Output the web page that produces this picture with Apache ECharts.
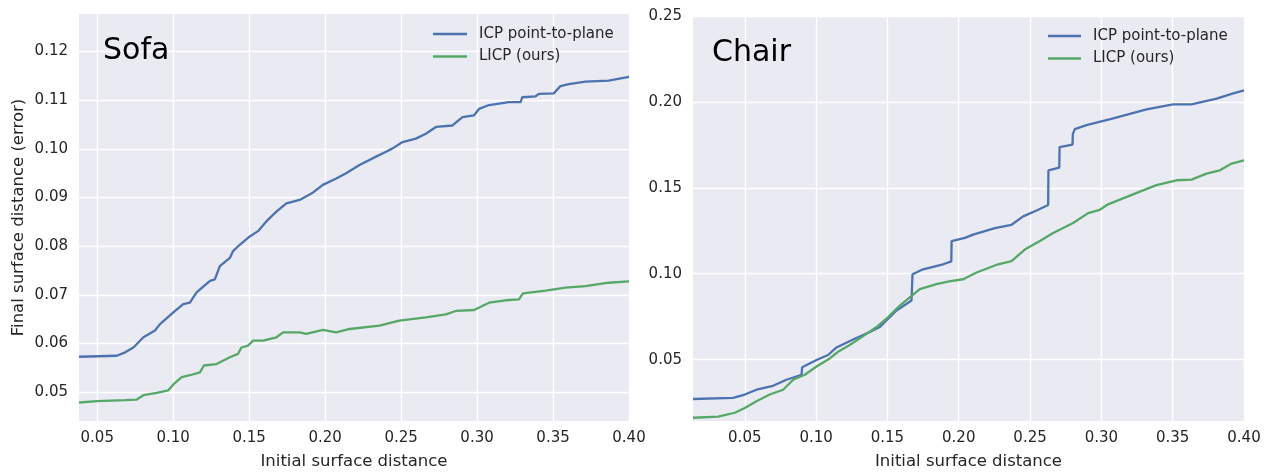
<!DOCTYPE html>
<html>
<head>
<meta charset="utf-8">
<script src="https://cdn.jsdelivr.net/npm/echarts@6/dist/echarts.min.js"></script>
<style>
html,body{margin:0;padding:0;background:#fff;}
#chart{width:1271px;height:475px;}
</style>
</head>
<body>
<div id="chart"></div>
<script>
// ---- Data ----
const seriesNames = ['ICP point-to-plane', 'LICP (ours)'];
const panelTitles = ['Sofa', 'Chair'];
const xAxisName = 'Initial surface distance';
const yAxisName = 'Final surface distance (error)';

// Sofa panel
const sofaIcpX = [0.038,0.0629,0.0684,0.0738,0.0804,0.088,0.0913,0.1001,0.1066,0.111,0.1154,0.1242,0.1274,0.1307,0.1373,0.1394,0.1438,0.1504,0.1558,0.1613,0.1679,0.1745,0.1832,0.1919,0.1985,0.2073,0.2138,0.2226,0.2335,0.2401,0.2444,0.251,0.2597,0.2663,0.2729,0.2838,0.2904,0.298,0.3013,0.3079,0.321,0.3287,0.3297,0.3385,0.3407,0.3505,0.3549,0.3604,0.3713,0.3866,0.40];
const sofaIcpY = [0.0573,0.0575,0.0582,0.0592,0.0613,0.0627,0.064,0.0664,0.0681,0.0684,0.0705,0.0729,0.0732,0.0759,0.0776,0.079,0.0803,0.082,0.0831,0.0851,0.0871,0.0888,0.0895,0.0910,0.0926,0.0939,0.095,0.0967,0.0984,0.0994,0.1001,0.1014,0.1021,0.1031,0.1045,0.1048,0.1065,0.1069,0.1082,0.109,0.1096,0.1096,0.1106,0.1108,0.1113,0.1114,0.1129,0.1133,0.1138,0.114,0.1148];
const sofaLicpX = [0.038,0.0498,0.0684,0.076,0.0804,0.0891,0.0968,0.1001,0.1056,0.111,0.1176,0.1202,0.1285,0.1373,0.1427,0.1449,0.1493,0.1526,0.1591,0.1679,0.1723,0.1832,0.1876,0.1985,0.2073,0.2161,0.2357,0.2488,0.2663,0.2795,0.286,0.298,0.3079,0.3188,0.3276,0.3302,0.3451,0.3582,0.3713,0.3866,0.40];
const sofaLicpY = [0.0479,0.0482,0.0484,0.0485,0.0494,0.0499,0.0504,0.0516,0.0531,0.0535,0.0541,0.0555,0.0558,0.0572,0.0579,0.0592,0.0596,0.0606,0.0606,0.0613,0.0623,0.0623,0.062,0.0628,0.0623,0.063,0.0637,0.0647,0.0654,0.066,0.0667,0.0669,0.0684,0.0689,0.0691,0.0703,0.0709,0.0715,0.0718,0.0725,0.0728];

// Chair panel
const chairIcpX = [0.0137,0.0418,0.05,0.0582,0.0698,0.0792,0.0898,0.0902,0.1003,0.1084,0.1143,0.1259,0.1377,0.1447,0.1564,0.1669,0.1676,0.175,0.1891,0.1948,0.195,0.2043,0.2101,0.2253,0.237,0.2452,0.2546,0.2627,0.2629,0.2705,0.2707,0.2798,0.28,0.2814,0.2896,0.3083,0.3317,0.3503,0.3632,0.3808,0.3924,0.40];
const chairIcpY = [0.0271,0.0277,0.0297,0.0325,0.0348,0.0383,0.0412,0.0456,0.0498,0.0527,0.0571,0.0617,0.0661,0.069,0.0786,0.0844,0.0997,0.1026,0.1055,0.1072,0.119,0.1209,0.1228,0.1266,0.1285,0.1334,0.1368,0.14,0.1602,0.1618,0.1737,0.1752,0.1813,0.1842,0.1865,0.1904,0.1957,0.1986,0.1986,0.2019,0.205,0.2067];
const chairLicpX = [0.0137,0.0313,0.043,0.05,0.0582,0.0675,0.0769,0.0839,0.0921,0.1003,0.1096,0.1154,0.1236,0.133,0.1424,0.1505,0.1587,0.1657,0.1727,0.1844,0.1933,0.2031,0.2125,0.2276,0.237,0.2463,0.2569,0.2662,0.2802,0.2907,0.2989,0.3047,0.327,0.3386,0.3527,0.3632,0.3737,0.3831,0.3913,0.40];
const chairLicpY = [0.0162,0.0168,0.0191,0.0219,0.0258,0.0297,0.0325,0.0383,0.0412,0.046,0.0507,0.0546,0.0585,0.0637,0.069,0.0748,0.0815,0.0863,0.0911,0.094,0.0955,0.0968,0.1007,0.1055,0.1074,0.1141,0.119,0.1237,0.1295,0.1353,0.1372,0.1404,0.1478,0.1516,0.1544,0.1548,0.1583,0.1602,0.1641,0.166];

// Axis ticks
const sofaXTicks = [0.05,0.10,0.15,0.20,0.25,0.30,0.35,0.40];
const sofaYTicks = [0.05,0.06,0.07,0.08,0.09,0.10,0.11,0.12];
const chairXTicks = [0.05,0.10,0.15,0.20,0.25,0.30,0.35,0.40];
const chairYTicks = [0.05,0.10,0.15,0.20,0.25];

// ---- Build chart ----
const zip = (xs, ys) => xs.map((x, i) => [x, ys[i]]);
const FONT = 'DejaVu Sans';
const TXT = '#262626';
const BLUE = '#4C72B0';
const GREEN = '#55A868';

function xAx(idx, min, max, ticks) {
  return {
    type: 'value', gridIndex: idx, min: min, max: max,
    name: xAxisName, nameLocation: 'middle', nameGap: 32,
    nameTextStyle: {fontFamily: FONT, fontSize: 16.5, color: TXT},
    axisLine: {show: false}, axisTick: {show: false, customValues: ticks},
    axisLabel: {customValues: ticks, margin: 10, fontFamily: FONT, fontSize: 15, color: TXT,
      formatter: v => v.toFixed(2)},
    splitLine: {show: false}
  };
}
function yAx(idx, min, max, ticks, named) {
  return {
    type: 'value', gridIndex: idx, min: min, max: max,
    name: named ? yAxisName : '', nameLocation: 'middle', nameGap: 52,
    nameTextStyle: {fontFamily: FONT, fontSize: 16.5, color: TXT},
    axisLine: {show: false}, axisTick: {show: false, customValues: ticks},
    axisLabel: {customValues: ticks, margin: 11, fontFamily: FONT, fontSize: 15, color: TXT,
      formatter: v => v.toFixed(2)},
    splitLine: {show: false}
  };
}
// gridlines drawn as markLines through the axes' scales, kept below the data
function gridLines(xi, yi, xt, yt) {
  return {
    type: 'line', xAxisIndex: xi, yAxisIndex: yi, data: [], z: 1, silent: true,
    markLine: {
      z: 1, silent: true, symbol: 'none', label: {show: false}, animation: false,
      lineStyle: {color: '#ffffff', width: 1.3, type: 'solid'},
      emphasis: {disabled: true},
      data: xt.map(v => ({xAxis: v})).concat(yt.map(v => ({yAxis: v})))
    }
  };
}
function lineSeries(name, color, xi, yi, data) {
  return {
    name: name, type: 'line', xAxisIndex: xi, yAxisIndex: yi, data: data,
    showSymbol: false, symbol: 'none', z: 3, animation: false,
    lineStyle: {color: color, width: 2.3}, itemStyle: {color: color}
  };
}

const chart = echarts.init(document.getElementById('chart'), null, {renderer: 'canvas'});
chart.setOption({
  backgroundColor: '#ffffff',
  animation: false,
  textStyle: {fontFamily: FONT},
  grid: [
    {left: 79, top: 14, width: 550, height: 410, show: true, backgroundColor: '#EAEAF2', borderWidth: 0},
    {left: 693, top: 16, width: 551, height: 409, show: true, backgroundColor: '#EAEAF2', borderWidth: 0}
  ],
  title: [
    {text: panelTitles[0], left: 98, top: 31, textStyle: {fontFamily: FONT, fontSize: 30, fontWeight: 'normal', color: '#000'}},
    {text: panelTitles[1], left: 707, top: 33, textStyle: {fontFamily: FONT, fontSize: 30, fontWeight: 'normal', color: '#000'}}
  ],
  legend: [
    {left: 428, top: 20, orient: 'vertical', itemWidth: 34, itemHeight: 2.5, itemGap: 4.6, icon: 'rect',
     data: seriesNames.map(n => ({name: n})),
     textStyle: {fontFamily: FONT, fontSize: 15, color: TXT, lineHeight: 18, padding: [0,0,0,7]}},
    {left: 1043, top: 22, orient: 'vertical', itemWidth: 33, itemHeight: 2.5, itemGap: 4.6, icon: 'rect',
     data: seriesNames.map(n => ({name: n})),
     textStyle: {fontFamily: FONT, fontSize: 15, color: TXT, lineHeight: 18, padding: [0,0,0,7]}}
  ],
  xAxis: [xAx(0, 0.038, 0.40, sofaXTicks), xAx(1, 0.0137, 0.40, chairXTicks)],
  yAxis: [yAx(0, 0.0441, 0.1277, sofaYTicks, true), yAx(1, 0.0143, 0.25, chairYTicks, false)],
  series: [
    gridLines(0, 0, sofaXTicks, sofaYTicks),
    gridLines(1, 1, chairXTicks, chairYTicks),
    lineSeries(seriesNames[0], BLUE, 0, 0, zip(sofaIcpX, sofaIcpY)),
    lineSeries(seriesNames[1], GREEN, 0, 0, zip(sofaLicpX, sofaLicpY)),
    lineSeries(seriesNames[0], BLUE, 1, 1, zip(chairIcpX, chairIcpY)),
    lineSeries(seriesNames[1], GREEN, 1, 1, zip(chairLicpX, chairLicpY))
  ]
});
</script>
</body>
</html>
